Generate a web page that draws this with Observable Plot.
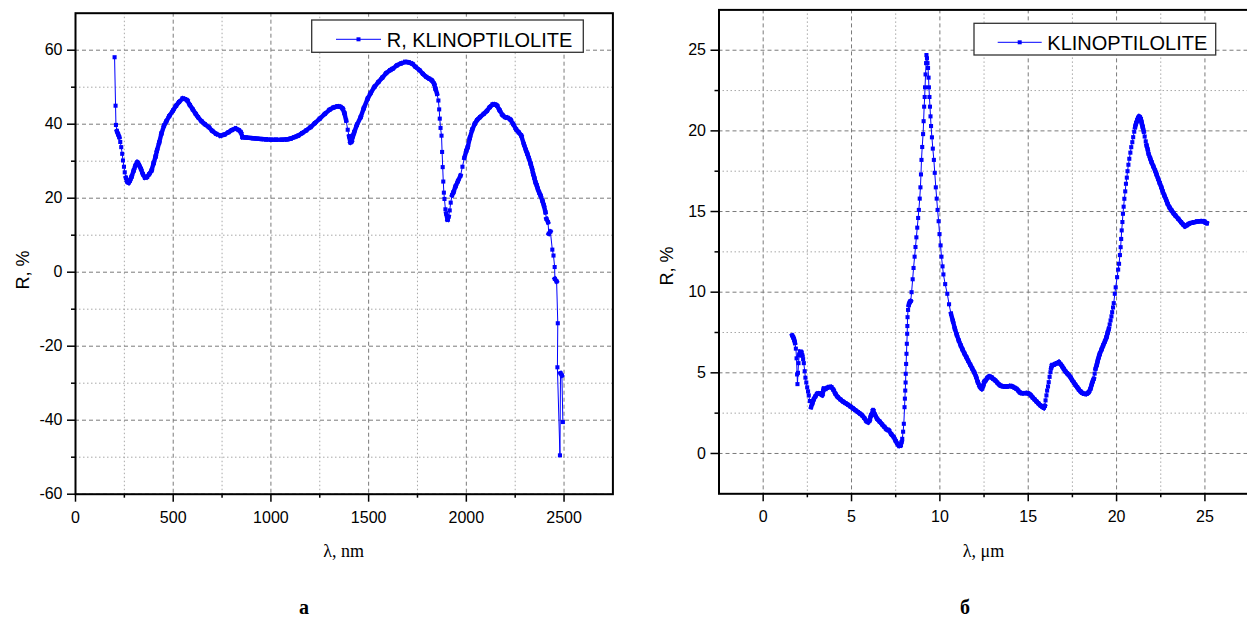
<!DOCTYPE html>
<html><head><meta charset="utf-8">
<script src="https://cdn.jsdelivr.net/npm/d3@7"></script>
<script src="https://cdn.jsdelivr.net/npm/@observablehq/plot@0.6"></script>
<style>
html,body{margin:0;padding:0;background:#fff;overflow:hidden;}
#page{position:relative;width:1247px;height:619px;overflow:hidden;background:#fff;}
.panel{position:absolute;top:0;width:640px;height:530px;}
.panel svg{max-width:none !important;}
#overlay{position:absolute;left:0;top:0;pointer-events:none;}
</style></head><body>
<div id="page">
<div id="left" class="panel" style="left:0px"></div>
<div id="right" class="panel" style="left:620px"></div>
<svg id="overlay" width="1247" height="619" xmlns="http://www.w3.org/2000/svg"></svg>
</div>
<script>
// ---- data: panel a (wavelength nm, R %) ----
const spectrumNm = [
[200,58.1],[205,45],[207,39.8],[212,38.1],[218,37.3],[224,36.5],[229,35.2],[234,33.8],[239,32],[243,30.2],
[248,28.5],[252,27],[258,25.5],[265,24.5],[272,24.2],[279,24.8],[287,25.8],[298,27.5],[307,28.8],[316,29.7],
[325,29],[335,27.9],[345,26.5],[355,25.6],[365,25.7],[377,26.5],[389,27.5],[400,29.5],[410,31.3],[417,32.9],
[428,35],[440,37.5],[453,39.6],[465,40.8],[480,42.2],[499,43.7],[515,45],[530,46],[548,46.9],[560,46.8],
[572,46.4],[585,45.2],[600,44],[615,42.8],[627,41.9],[645,40.8],[662,40],[682,39.2],[700,38.2],[720,37.4],
[742,36.9],[762,37.2],[782,37.8],[800,38.4],[819,38.8],[835,38.4],[846,37.8],[855,36.5],[870,36.4],[890,36.3],
[910,36.2],[930,36.1],[950,36],[975,35.9],[1000,35.8],[1025,35.8],[1056,35.8],[1080,35.9],[1100,36.1],[1120,36.5],
[1139,36.9],[1160,37.6],[1180,38.3],[1203,39.2],[1225,40.3],[1250,41.5],[1276,42.8],[1300,43.9],[1320,44.5],[1340,44.8],
[1355,44.7],[1367,44.2],[1376,43],[1385,41],[1393,38.5],[1400,36.7],[1407,35.1],[1413,35.4],[1420,36.8],[1426,37.8],
[1440,39.8],[1459,41.9],[1475,44.3],[1495,46.9],[1510,48.4],[1530,50.1],[1550,51.4],[1570,52.6],[1590,53.8],[1610,54.6],
[1623,55],[1645,55.9],[1665,56.4],[1687,56.8],[1705,56.7],[1724,56.3],[1740,55.5],[1760,54.6],[1778,53.6],[1795,52.8],
[1810,52.3],[1824,51.8],[1835,50.9],[1842,49.6],[1850,48.2],[1857,46.4],[1861,44],[1864,41.5],[1868,39],[1873,36.9],
[1876,32.5],[1879,28.4],[1882,24.5],[1885,21.5],[1888,19.8],[1893,17],[1897,15.8],[1904,14.2],[1909,15],[1915,16.7],
[1920,18.8],[1927,20.8],[1934,21.6],[1945,23.2],[1957,24.6],[1970,26.1],[1980,28.5],[1990,30.9],[2000,32.8],[2007,33.8],
[2018,36.3],[2030,38.5],[2043,40.1],[2055,41.1],[2070,41.9],[2089,42.8],[2105,43.6],[2120,44.6],[2135,45.3],[2147,45.3],
[2157,45],[2170,43.8],[2185,42.5],[2199,41.9],[2212,41.7],[2226,41.2],[2240,40],[2255,38.6],[2268,37.8],[2281,36.9],
[2295,34.5],[2305,33],[2312,32],[2320,30.8],[2329,29.3],[2336,28],[2342,26.6],[2348,25.5],[2354,24.3],[2360,23.5],
[2366,22.5],[2373,21.5],[2380,20.7],[2390,19.2],[2397,18],[2405,16.2],[2410,14.4],[2418,13.5],[2422,10.4],[2430,11],
[2440,6.1],[2446,4.5],[2452,1.4],[2453,-1.8],[2462,-2.5],[2468,-13.8],[2466,-25.7],[2479,-49.5],[2482,-27.3],[2489,-27.9],
[2494,-40.5]
];
// ---- data: panel б (wavelength µm, R %) ----
const spectrumUm = [
[1.64,7.32],[1.70,7.2],[1.75,7.05],[1.80,6.85],[1.85,6.5],[1.89,5.9],[1.92,4.9],[1.94,4.3],[1.97,5.0],[2.00,5.6],
[2.04,6.1],[2.09,6.3],[2.15,6.28],[2.21,6.1],[2.26,5.85],[2.30,5.6],[2.35,5.1],[2.39,4.7],[2.44,4.4],[2.49,4.1],
[2.54,3.85],[2.58,3.6],[2.64,3.25],[2.71,2.87],[2.78,3.1],[2.86,3.35],[2.96,3.55],[3.06,3.7],[3.18,3.72],[3.28,3.68],
[3.34,3.62],[3.39,3.85],[3.43,4.01],[3.52,4.0],[3.62,4.07],[3.74,4.12],[3.85,4.11],[3.97,3.95],[4.09,3.7],[4.22,3.5],
[4.37,3.35],[4.52,3.22],[4.66,3.12],[4.80,3.02],[4.94,2.91],[5.08,2.8],[5.22,2.68],[5.36,2.57],[5.48,2.47],[5.60,2.36],
[5.72,2.2],[5.85,2.0],[5.94,1.94],[6.02,2.05],[6.10,2.35],[6.22,2.67],[6.33,2.4],[6.45,2.15],[6.59,1.98],[6.73,1.8],
[6.86,1.65],[6.98,1.5],[7.11,1.43],[7.25,1.2],[7.39,1.01],[7.50,0.78],[7.62,0.56],[7.70,0.48],[7.77,0.5],[7.83,0.7],
[7.87,0.91],[7.92,1.35],[7.96,1.84],[8.00,2.87],[8.02,3.4],[8.04,3.9],[8.06,4.4],[8.07,4.94],[8.09,5.55],[8.11,6.18],
[8.13,6.8],[8.15,7.42],[8.16,7.9],[8.17,8.45],[8.20,8.9],[8.24,9.2],[8.30,9.38],[8.35,9.45],[8.40,10.0],[8.46,10.8],
[8.51,11.5],[8.57,12.2],[8.62,12.8],[8.67,13.4],[8.72,14.0],[8.77,14.6],[8.81,15.1],[8.86,15.8],[8.90,16.5],[8.93,17.3],
[8.96,18.2],[9.00,19.0],[9.05,19.8],[9.08,20.6],[9.11,21.5],[9.14,22.1],[9.16,22.7],[9.19,23.5],[9.22,24.2],[9.24,24.7],
[9.27,24.5],[9.30,24.2],[9.33,23.9],[9.36,23.3],[9.38,22.7],[9.41,22.1],[9.44,21.5],[9.47,20.9],[9.50,20.3],[9.55,19.6],
[9.60,18.9],[9.66,18.2],[9.71,17.4],[9.77,16.5],[9.82,15.8],[9.87,15.1],[9.93,14.4],[9.98,13.6],[10.04,12.9],[10.09,12.2],
[10.15,11.6],[10.20,11.1],[10.30,10.5],[10.42,9.9],[10.52,9.25],[10.63,8.66],[10.74,8.2],[10.85,7.73],[10.96,7.35],[11.07,7.0],
[11.18,6.7],[11.28,6.45],[11.39,6.2],[11.50,5.97],[11.60,5.75],[11.72,5.5],[11.83,5.27],[11.94,5.04],[12.05,4.75],[12.15,4.42],
[12.26,4.15],[12.37,4.01],[12.45,4.2],[12.52,4.45],[12.59,4.53],[12.70,4.7],[12.80,4.77],[12.92,4.72],[13.02,4.62],[13.13,4.53],
[13.24,4.4],[13.35,4.28],[13.45,4.2],[13.56,4.17],[13.67,4.15],[13.78,4.15],[13.89,4.17],[14.00,4.18],[14.10,4.15],[14.22,4.08],
[14.33,4.01],[14.43,3.9],[14.54,3.78],[14.65,3.74],[14.80,3.74],[14.94,3.74],[15.04,3.7],[15.15,3.6],[15.25,3.47],[15.36,3.35],
[15.47,3.22],[15.58,3.1],[15.69,2.98],[15.79,2.9],[15.88,2.83],[15.94,2.95],[15.98,3.29],[16.03,3.6],[16.07,3.9],[16.12,4.15],
[16.16,4.42],[16.21,4.75],[16.26,5.04],[16.30,5.3],[16.35,5.46],[16.45,5.5],[16.54,5.56],[16.63,5.6],[16.73,5.66],[16.82,5.55],
[16.92,5.4],[17.01,5.25],[17.10,5.1],[17.20,4.97],[17.30,4.85],[17.39,4.73],[17.48,4.55],[17.58,4.4],[17.67,4.25],[17.77,4.11],
[17.86,3.97],[17.96,3.85],[18.05,3.76],[18.17,3.7],[18.30,3.7],[18.42,3.8],[18.52,4.01],[18.60,4.3],[18.66,4.5],[18.71,4.63],
[18.76,4.95],[18.81,5.25],[18.88,5.5],[18.94,5.77],[19.00,6.0],[19.05,6.18],[19.15,6.45],[19.24,6.7],[19.34,6.95],[19.43,7.21],
[19.50,7.5],[19.56,7.73],[19.61,8.0],[19.66,8.25],[19.71,8.5],[19.75,8.76],[19.80,9.05],[19.84,9.32],[19.90,9.9],[19.95,10.3],
[20.03,10.93],[20.09,11.4],[20.14,11.76],[20.19,12.3],[20.23,12.79],[20.26,13.3],[20.29,13.83],[20.33,14.35],[20.36,14.86],[20.40,15.3],
[20.44,15.79],[20.49,16.25],[20.53,16.72],[20.58,17.1],[20.62,17.5],[20.67,17.9],[20.72,18.27],[20.78,18.65],[20.83,18.99],[20.89,19.3],
[20.94,19.61],[21.00,19.95],[21.05,20.23],[21.10,20.45],[21.16,20.64],[21.22,20.8],[21.27,20.89],[21.33,20.82],[21.38,20.69],[21.43,20.45],
[21.48,20.23],[21.54,19.95],[21.59,19.65],[21.65,19.35],[21.70,19.09],[21.76,18.85],[21.81,18.58],[21.90,18.3],[21.98,18.06],[22.08,17.8],
[22.18,17.54],[22.26,17.3],[22.35,17.03],[22.44,16.77],[22.53,16.51],[22.61,16.25],[22.70,16.0],[22.80,15.74],[22.89,15.48],[23.00,15.25],
[23.11,15.07],[23.22,14.9],[23.33,14.75],[23.49,14.55],[23.65,14.34],[23.76,14.2],[23.87,14.09],[23.98,14.15],[24.09,14.24],[24.25,14.3],
[24.41,14.34],[24.57,14.38],[24.74,14.4],[24.85,14.4],[24.96,14.38],[25.05,14.3],[25.11,14.28]
];
// ---- ticks ----
const leftXMajor = [0, 500, 1000, 1500, 2000, 2500];
const leftXMinor = [250, 750, 1250, 1750, 2250];
const leftYMajor = [-60, -40, -20, 0, 20, 40, 60];
const leftYMinor = [-50, -30, -10, 10, 30, 50];
const rightXMajor = [0, 5, 10, 15, 20, 25];
const rightXMinor = [2.5, 7.5, 12.5, 17.5, 22.5];
const rightYMajor = [0, 5, 10, 15, 20, 25];
const rightYMinor = [2.5, 7.5, 12.5, 17.5, 22.5];
// ---- texts ----
const legendLeft = "R, KLINOPTILOLITE";
const legendRight = "KLINOPTILOLITE";
const yLabel = "R, %";
const xLabelLeft = "λ, nm";
const xLabelRight = "λ, μm";
const captionLeft = "а";
const captionRight = "б";

const BLUE = "#0000ff";
const SANS = "'Liberation Sans', Arial, sans-serif";
const SERIF = "'Liberation Serif', 'Times New Roman', serif";

function panel({data, xDomain, yDomain, xMajor, xMinor, yMajor, yMinor, width, height, mL, mR, mT, mB}) {
  const pts = data.map(([x, y]) => ({x, y}));
  // pixels per data unit (same geometry as the scales below); used only to style
  // the gently sloping stretches of the densely sampled trace as a bold band
  const kx = (width - mL - mR) / (xDomain[1] - xDomain[0]);
  const ky = (height - mT - mB) / (yDomain[1] - yDomain[0]);
  const segs = [];
  for (let i = 1; i < pts.length; i++) {
    const a = pts[i - 1], b = pts[i];
    const dx = Math.abs(b.x - a.x) * kx, dy = Math.abs(b.y - a.y) * ky;
    if (dy < 4.5 * Math.max(dx, 1e-6)) segs.push({x1: a.x, y1: a.y, x2: b.x, y2: b.y});
  }
  const fmt = d => String(d);
  return Plot.plot({
    width, height, marginLeft: mL, marginRight: mR, marginTop: mT, marginBottom: mB,
    x: {domain: xDomain, label: null},
    y: {domain: yDomain, label: null},
    style: {fontFamily: SANS, fontSize: "16px", color: "black", background: "transparent", overflow: "visible", maxWidth: "none"},
    marks: [
      Plot.gridX({ticks: xMinor, stroke: "#a8a8a8", strokeOpacity: 1, strokeWidth: 1, strokeDasharray: "1.5,2.5"}),
      Plot.gridY({ticks: yMinor, stroke: "#a8a8a8", strokeOpacity: 1, strokeWidth: 1, strokeDasharray: "1.5,2.5"}),
      Plot.gridX({ticks: xMajor, stroke: "#7a7a7a", strokeOpacity: 1, strokeWidth: 1, strokeDasharray: "4,3"}),
      Plot.gridY({ticks: yMajor, stroke: "#7a7a7a", strokeOpacity: 1, strokeWidth: 1, strokeDasharray: "4,3"}),
      Plot.axisX({ticks: xMinor, tickSize: 4, tickFormat: () => "", label: null, strokeWidth: 1.5}),
      Plot.axisY({ticks: yMinor, tickSize: 4, tickFormat: () => "", label: null, strokeWidth: 1.5}),
      Plot.axisX({ticks: xMajor, tickSize: 8, tickPadding: 9, tickFormat: fmt, label: null, strokeWidth: 1.5, fontSize: 16}),
      Plot.axisY({ticks: yMajor, tickSize: 8, tickPadding: 5, tickFormat: fmt, label: null, strokeWidth: 1.5, fontSize: 16}),
      Plot.line(pts, {x: "x", y: "y", stroke: BLUE, strokeWidth: 1}),
      Plot.link(segs, {x1: "x1", y1: "y1", x2: "x2", y2: "y2", stroke: BLUE, strokeWidth: 4.4, strokeLinecap: "square"}),
      Plot.dot(pts, {x: "x", y: "y", symbol: "square", r: 2.3, fill: BLUE, stroke: "none"}),
      Plot.frame({stroke: "black", strokeWidth: 2})
    ]
  });
}

document.getElementById("left").appendChild(panel({
  data: spectrumNm, xDomain: [0, 2750], yDomain: [-60, 70],
  xMajor: leftXMajor, xMinor: leftXMinor, yMajor: leftYMajor, yMinor: leftYMinor,
  width: 640, height: 530, mL: 75, mR: 27.6, mT: 12.7, mB: 36.3
}));
document.getElementById("right").appendChild(panel({
  data: spectrumUm, xDomain: [-2.5, 27.5], yDomain: [-2.5, 27.5],
  xMajor: rightXMajor, xMinor: rightXMinor, yMajor: rightYMajor, yMinor: rightYMinor,
  width: 640, height: 530, mL: 98.5, mR: 11.4, mT: 9.4, mB: 36.7
}));

// ---- overlay: legends, axis titles, captions ----
const ov = d3.select("#overlay");
function legend(x, y, w, h, lineX1, lineX2, lineY, textX, textY, label) {
  ov.append("rect").attr("x", x).attr("y", y).attr("width", w).attr("height", h)
    .attr("fill", "white").attr("stroke", "#333").attr("stroke-width", 1.3);
  ov.append("line").attr("x1", lineX1).attr("x2", lineX2).attr("y1", lineY).attr("y2", lineY)
    .attr("stroke", BLUE).attr("stroke-width", 1);
  const cx = (lineX1 + lineX2) / 2;
  ov.append("rect").attr("x", cx - 2).attr("y", lineY - 2).attr("width", 4).attr("height", 4).attr("fill", BLUE);
  ov.append("text").attr("x", textX).attr("y", textY).attr("font-family", SANS).attr("font-size", 20)
    .attr("fill", "black").text(label);
}
legend(311.7, 20, 271.6, 32.3, 336, 381, 39.3, 386.7, 46.7, legendLeft);
legend(974, 23.3, 241.7, 31.7, 997.7, 1041.7, 42.3, 1047.3, 49.5, legendRight);

function ylab(x, y) {
  ov.append("text").attr("transform", `translate(${x},${y}) rotate(-90)`)
    .attr("text-anchor", "middle").attr("font-family", SANS).attr("font-size", 18).attr("fill", "black").text(yLabel);
}
ylab(29, 270);
ylab(673, 266);

function xlab(x, y, t) {
  ov.append("text").attr("x", x).attr("y", y).attr("text-anchor", "middle")
    .attr("font-family", SERIF).attr("font-size", 18).attr("fill", "black").text(t);
}
xlab(343.7, 557, xLabelLeft);
xlab(983.5, 557, xLabelRight);

function cap(x, y, t) {
  ov.append("text").attr("x", x).attr("y", y).attr("text-anchor", "middle")
    .attr("font-family", SERIF).attr("font-size", 20).attr("font-weight", "bold").attr("fill", "black").text(t);
}
cap(304, 614, captionLeft);
cap(965, 614, captionRight);
</script>
</body></html>
